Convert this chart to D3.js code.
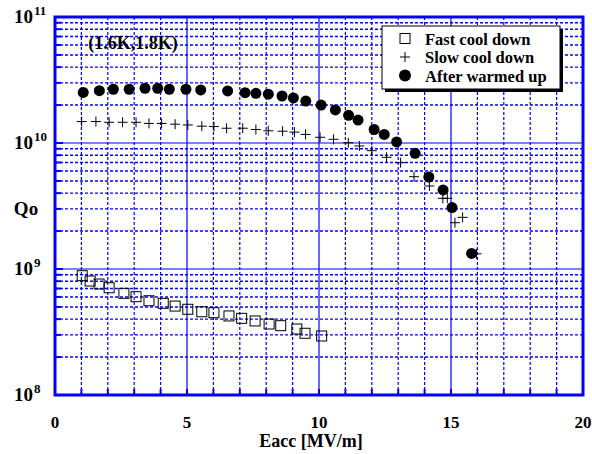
<!DOCTYPE html>
<html><head><meta charset="utf-8">
<script src="https://cdn.jsdelivr.net/npm/d3@7"></script>
<style>body{margin:0;background:#fff}svg{display:block}</style>
</head><body>
<svg id="c" width="592" height="454" font-family="'Liberation Serif', 'Times New Roman', Times, serif" font-weight="bold"></svg>
<script>
// Data
const fastE = [1.03,1.33,1.67,2.05,2.61,3.07,3.56,4.10,4.55,5.03,5.56,6.02,6.59,7.07,7.58,8.11,8.55,9.16,9.47,10.10];
const fastQ = [8.85e8,8.03e8,7.60e8,7.10e8,6.41e8,6.03e8,5.60e8,5.34e8,5.08e8,4.79e8,4.58e8,4.50e8,4.24e8,4.06e8,3.87e8,3.66e8,3.55e8,3.34e8,3.09e8,2.94e8];
const slowE = [1.01,1.55,2.05,2.56,3.07,3.56,4.04,4.55,5.03,5.56,6.02,6.50,7.11,7.61,8.08,8.62,9.07,9.49,10.04,10.55,11.11,11.53,12.00,12.56,13.09,13.60,14.18,14.69,14.86,15.15,15.44,15.97];
const slowQ = [1.48e10,1.48e10,1.46e10,1.46e10,1.46e10,1.43e10,1.43e10,1.41e10,1.39e10,1.36e10,1.35e10,1.31e10,1.31e10,1.28e10,1.25e10,1.24e10,1.22e10,1.17e10,1.11e10,1.07e10,1.005e10,9.47e9,8.69e9,7.70e9,6.98e9,5.40e9,4.56e9,3.64e9,3.64e9,2.33e9,2.57e9,1.32e9];
const warmE = [1.07,1.68,2.21,2.81,3.41,3.89,4.33,4.96,5.52,6.54,7.20,7.61,8.08,8.60,9.03,9.50,10.08,10.62,11.12,11.48,12.09,12.47,12.94,13.64,14.16,14.70,15.04,15.78];
const warmQ = [2.52e10,2.60e10,2.67e10,2.67e10,2.72e10,2.72e10,2.67e10,2.67e10,2.64e10,2.59e10,2.51e10,2.48e10,2.44e10,2.36e10,2.28e10,2.15e10,2.00e10,1.83e10,1.66e10,1.52e10,1.28e10,1.17e10,1.02e10,8.28e9,5.37e9,4.24e9,3.07e9,1.33e9];
const xTicks = [0,5,10,15,20];
const xTickLabels = ["0","5","10","15","20"];
const yDecades = [1e8,1e9,1e10,1e11];
const yTickExponents = ["8","9","10","11"];
const seriesNames = ["Fast cool down","Slow cool down","After warmed up"];
const annotation = "(1.6K,1.8K)";
const xTitle = "Eacc [MV/m]";
const yTitle = "Qo";

const L=55,R=583,T=17,B=395;
const svg=d3.select("#c");
const x=d3.scaleLinear().domain([0,20]).range([L,R]);
const y=d3.scaleLog().domain([1e8,1e11]).range([B,T]);
const blue="#0000ff";

// grid
const g=svg.append("g");
const minorY=[];
[1e8,1e9,1e10].forEach(d=>{for(let k=2;k<=9;k++)minorY.push(d*k);});
g.selectAll(".my").data(minorY).enter().append("line")
 .attr("x1",L).attr("x2",R).attr("y1",d=>y(d)).attr("y2",d=>y(d))
 .attr("stroke",blue).attr("stroke-width",1.4).attr("stroke-dasharray","3,2");
const minorX=d3.range(1,20).filter(d=>d%5!==0);
g.selectAll(".mx").data(minorX).enter().append("line")
 .attr("y1",T).attr("y2",B).attr("x1",d=>x(d)).attr("x2",d=>x(d))
 .attr("stroke",blue).attr("stroke-width",1.2).attr("stroke-dasharray","3,2");
g.selectAll(".My").data(yDecades.slice(1,3)).enter().append("line")
 .attr("x1",L).attr("x2",R).attr("y1",d=>y(d)).attr("y2",d=>y(d))
 .attr("stroke",blue).attr("stroke-width",1.2);
g.selectAll(".Mx").data([5,10,15]).enter().append("line")
 .attr("y1",T).attr("y2",B).attr("x1",d=>x(d)).attr("x2",d=>x(d))
 .attr("stroke",blue).attr("stroke-width",1.2);
// ticks
g.selectAll(".ty").data(minorY.concat(yDecades)).enter().append("line")
 .attr("x1",L).attr("x2",d=>L+(yDecades.includes(d)?8:6)).attr("y1",d=>y(d)).attr("y2",d=>y(d))
 .attr("stroke",blue).attr("stroke-width",2);
g.selectAll(".tx").data(d3.range(1,20)).enter().append("line")
 .attr("y1",B).attr("y2",B-6).attr("x1",d=>x(d)).attr("x2",d=>x(d))
 .attr("stroke",blue).attr("stroke-width",2);
// border
svg.append("rect").attr("x",L).attr("y",T).attr("width",R-L).attr("height",B-T)
 .attr("fill","none").attr("stroke",blue).attr("stroke-width",3);

// axis labels
svg.selectAll(".xl").data(xTicks).enter().append("text")
 .attr("x",d=>x(d)).attr("y",428).attr("text-anchor","middle").attr("font-size",17)
 .text((d,i)=>xTickLabels[i]);
yDecades.forEach((d,i)=>{
  svg.append("text").attr("x",33).attr("y",y(d)+6).attr("text-anchor","end").attr("font-size",19).text("10");
  svg.append("text").attr("x",34).attr("y",y(d)-2).attr("font-size",13).text(yTickExponents[i]);
});
svg.append("text").attr("x",311).attr("y",447).attr("text-anchor","middle").attr("font-size",18).text(xTitle);
svg.append("text").attr("x",26).attr("y",215).attr("text-anchor","middle").attr("font-size",19).text(yTitle);
svg.append("text").attr("x",133).attr("y",49).attr("text-anchor","middle").attr("font-size",18).text(annotation);

// data
const p=svg.append("g");
const fast=d3.zip(fastE,fastQ), slow=d3.zip(slowE,slowQ), warm=d3.zip(warmE,warmQ);
p.selectAll(".sq").data(fast).enter().append("rect")
 .attr("x",d=>x(d[0])-5).attr("y",d=>y(d[1])-5).attr("width",10).attr("height",10)
 .attr("fill","none").attr("stroke","#000").attr("stroke-width",1);
const plus=(sel,s)=>sel.append("path").attr("d",d=>`M${x(d[0])-s},${y(d[1])}h${2*s}M${x(d[0])},${y(d[1])-s}v${2*s}`)
 .attr("stroke","#000").attr("stroke-width",1).attr("fill","none");
plus(p.selectAll(".pl").data(slow).enter(),5);
p.selectAll(".ci").data(warm).enter().append("circle")
 .attr("cx",d=>x(d[0])).attr("cy",d=>y(d[1])).attr("r",5.5).attr("fill","#000");

// legend
const lg=svg.append("g");
lg.append("rect").attr("x",385).attr("y",29).attr("width",178).attr("height",63).attr("fill","#000");
lg.append("rect").attr("x",382).attr("y",26).attr("width",178).attr("height",63).attr("fill","#fff").attr("stroke","#000").attr("stroke-width",1);
const rows=[38.5,57,75.5];
lg.append("rect").attr("x",400).attr("y",rows[0]-5).attr("width",10).attr("height",10).attr("fill","none").attr("stroke","#000");
lg.append("path").attr("d",`M400,${rows[1]}h10M405,${rows[1]-5}v10`).attr("stroke","#000");
lg.append("circle").attr("cx",405).attr("cy",rows[2]).attr("r",6).attr("fill","#000");
lg.selectAll(".lt").data(seriesNames).enter().append("text")
 .attr("x",425).attr("y",(d,i)=>rows[i]+6).attr("font-size",16.5).text(d=>d);
</script>
</body></html>
